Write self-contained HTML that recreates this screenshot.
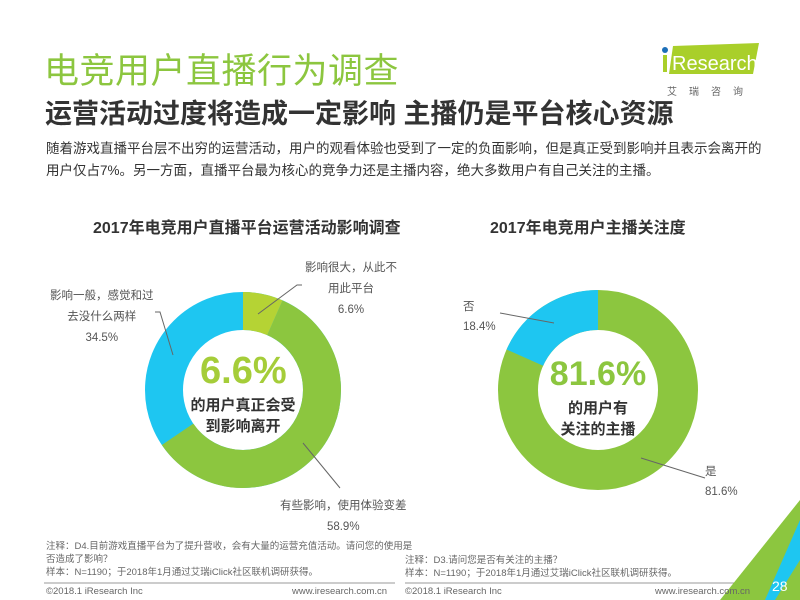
<!DOCTYPE html>
<html><head><meta charset="utf-8">
<style>
body{margin:0;width:800px;height:600px;overflow:hidden;background:#fff;font-family:"Liberation Sans","Noto Sans CJK SC",sans-serif;position:relative;color:#333}
.a{position:absolute;white-space:nowrap}
</style></head><body>
<div class="a" style="left:44px;top:43px;font-size:35px;color:#8cc63f;letter-spacing:0.5px">电竞用户直播行为调查</div>
<div class="a" style="left:45px;top:92px;font-size:27px;font-weight:bold;color:#333">运营活动过度将造成一定影响 主播仍是平台核心资源</div>
<div class="a" style="left:46px;top:138px;font-size:13.5px;line-height:22px;color:#333;white-space:normal;width:720px">随着游戏直播平台层不出穷的运营活动，用户的观看体验也受到了一定的负面影响，但是真正受到影响并且表示会离开的用户仅占7%。另一方面，直播平台最为核心的竞争力还是主播内容，绝大多数用户有自己关注的主播。</div>
<svg class="a" style="left:655px;top:40px" width="110" height="40"><polygon points="18,6 104,3 98,34 14,34" fill="#a9cf2a"/><circle cx="10" cy="10" r="3" fill="#1d6fb8"/><rect x="8" y="15" width="4" height="17" fill="#a9cf2a"/><text x="17" y="30" font-size="20" fill="#fff" font-family="Liberation Sans">Research</text></svg>
<div class="a" style="left:667px;top:83px;font-size:10px;color:#666;letter-spacing:12px">艾瑞咨询</div>
<div class="a" style="left:93px;top:214px;font-size:16px;font-weight:bold">2017年电竞用户直播平台运营活动影响调查</div>
<div class="a" style="left:490px;top:214px;font-size:16px;font-weight:bold">2017年电竞用户主播关注度</div>
<svg class="a" style="left:0;top:0" width="800" height="600">
<g transform="translate(243,390) rotate(-90)">
<circle r="79" fill="none" stroke="#1ec6f1" stroke-width="38"/>
<circle r="79" fill="none" stroke="#8cc63f" stroke-width="38" stroke-dasharray="0 32.8 292.3 200"/>
<circle r="79" fill="none" stroke="#b5d334" stroke-width="38" stroke-dasharray="32.8 500"/>
</g>
<g transform="translate(598,390) rotate(-90)">
<circle r="80" fill="none" stroke="#8cc63f" stroke-width="40"/>
<circle r="80" fill="none" stroke="#1ec6f1" stroke-width="40" stroke-dasharray="0 410.2 92.5 10"/>
</g>
<g stroke="#666" stroke-width="1" fill="none">
<polyline points="258,314 297,285 302,285"/>
<polyline points="173,355 160,312 155,312"/>
<polyline points="303,443 340,488"/>
<polyline points="554,323 500,313"/>
<polyline points="641,458 705,478"/>
<line x1="44" y1="583" x2="395" y2="583" stroke="#999"/>
<line x1="405" y1="583" x2="760" y2="583" stroke="#999"/>
</g>
<polygon points="800,500 800,600 720,600" fill="#8cc63f"/>
<polygon points="800,520 800,560 775,600 765,600" fill="#1ec6f1"/>
</svg>
<div class="a" style="left:200px;top:350px;width:86px;text-align:center;font-size:38px;font-weight:bold;color:#a5cd39">6.6%</div>
<div class="a" style="left:183px;top:395px;width:120px;text-align:center;font-size:15px;font-weight:bold;line-height:21px">的用户真正会受<br>到影响离开</div>
<div class="a" style="left:543px;top:355px;width:110px;text-align:center;font-size:34px;font-weight:bold;color:#8cc63f">81.6%</div>
<div class="a" style="left:548px;top:398px;width:100px;text-align:center;font-size:15px;font-weight:bold;line-height:21px">的用户有<br>关注的主播</div>
<div class="a" style="left:305px;top:258px;font-size:11.5px;color:#555;line-height:21px;text-align:center">影响很大，从此不<br>用此平台<br>6.6%</div>
<div class="a" style="left:50px;top:286px;font-size:11.5px;color:#555;line-height:21px;text-align:center">影响一般，感觉和过<br>去没什么两样<br>34.5%</div>
<div class="a" style="left:280px;top:496px;font-size:11.5px;color:#555;line-height:21px;text-align:center">有些影响，使用体验变差<br>58.9%</div>
<div class="a" style="left:463px;top:297px;font-size:11.5px;color:#555;line-height:20px">否<br>18.4%</div>
<div class="a" style="left:705px;top:462px;font-size:11.5px;color:#555;line-height:20px">是<br>81.6%</div>
<div class="a" style="left:46px;top:540px;font-size:9.5px;color:#666;line-height:13px">注释：D4.目前游戏直播平台为了提升营收，会有大量的运营充值活动。请问您的使用是<br>否造成了影响？<br>样本：N=1190；于2018年1月通过艾瑞iClick社区联机调研获得。</div>
<div class="a" style="left:405px;top:554px;font-size:9.5px;color:#666;line-height:13px">注释：D3.请问您是否有关注的主播？<br>样本：N=1190；于2018年1月通过艾瑞iClick社区联机调研获得。</div>
<div class="a" style="left:46px;top:586px;font-size:9.5px;color:#666">©2018.1 iResearch Inc</div>
<div class="a" style="left:292px;top:586px;font-size:9.5px;color:#666">www.iresearch.com.cn</div>
<div class="a" style="left:405px;top:586px;font-size:9.5px;color:#666">©2018.1 iResearch Inc</div>
<div class="a" style="left:655px;top:586px;font-size:9.5px;color:#666">www.iresearch.com.cn</div>
<div class="a" style="left:772px;top:578px;font-size:14px;color:#fff">28</div>
</body></html>
